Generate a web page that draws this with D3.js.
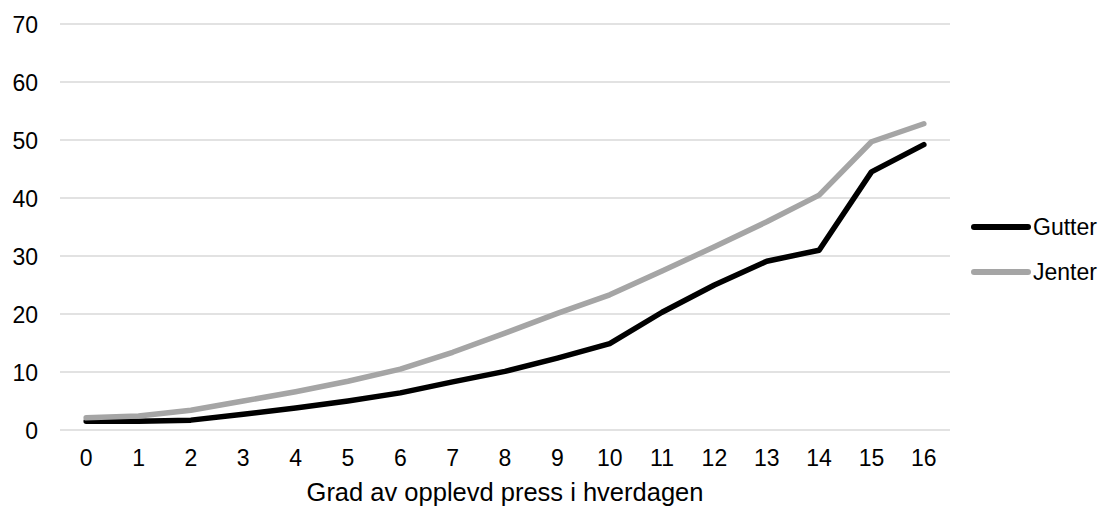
<!DOCTYPE html>
<html>
<head>
<meta charset="utf-8">
<script src="https://cdn.jsdelivr.net/npm/d3@7"></script>
<style>
  body { margin: 0; background: #fff; }
  text { font-family: "Liberation Sans", Arial, sans-serif; fill: #000; }
</style>
</head>
<body>
<svg id="chart"></svg>
<script>
// data
const categories = ["0","1","2","3","4","5","6","7","8","9","10","11","12","13","14","15","16"];
const gutter = [1.5, 1.5, 1.7, 2.7, 3.8, 5.0, 6.4, 8.3, 10.1, 12.4, 14.9, 20.3, 25.0, 29.1, 31.0, 44.5, 49.2];
const jenter = [2.1, 2.4, 3.4, 5.0, 6.6, 8.4, 10.5, 13.4, 16.7, 20.1, 23.3, 27.4, 31.6, 35.9, 40.5, 49.7, 52.8];
const seriesNames = ["Gutter", "Jenter"];
const seriesColors = ["#000000", "#a5a5a5"];
const yTicks = [0, 10, 20, 30, 40, 50, 60, 70];
const xTitle = "Grad av opplevd press i hverdagen";

// layout
const W = 1101, H = 509;
const margin = {top: 24, right: 151, bottom: 79, left: 60};
const width = W - margin.left - margin.right;
const height = H - margin.top - margin.bottom;

const svg = d3.select('#chart')
    .attr('width', W)
    .attr('height', H)
    .append('g')
    .attr('transform', 'translate(' + margin.left + ',' + margin.top + ')');

const x = d3.scaleBand()
    .domain(categories)
    .range([0, width]);

const y = d3.scaleLinear()
    .domain([0, 70])
    .range([height, 0]);

// gridlines
svg.append('g')
    .selectAll('line')
    .data(yTicks)
    .enter()
    .append('line')
    .attr('x1', 0)
    .attr('x2', width)
    .attr('y1', d => y(d))
    .attr('y2', d => y(d))
    .attr('stroke', '#d9d9d9')
    .attr('stroke-width', 1.3);

// y axis labels
const yAxis = svg.append('g')
    .call(d3.axisLeft(y).tickValues(yTicks).tickSize(0).tickPadding(22));
yAxis.select('.domain').remove();
yAxis.selectAll('text')
    .attr('dy', '0.36em')
    .style('font-size', '23px')
    .style('font-family', '"Liberation Sans", Arial, sans-serif');

// x axis labels
const xAxis = svg.append('g')
    .attr('transform', 'translate(0,' + height + ')')
    .call(d3.axisBottom(x).tickSize(0).tickPadding(0));
xAxis.select('.domain').remove();
xAxis.selectAll('text')
    .attr('dy', null)
    .attr('y', 36)
    .style('font-size', '23px')
    .style('font-family', '"Liberation Sans", Arial, sans-serif');

svg.append('text')
    .attr('x', width / 2)
    .attr('y', height + 71)
    .attr('text-anchor', 'middle')
    .style('font-size', '25.5px')
    .text(xTitle);

// lines
const line = d3.line()
    .x((d, i) => x(categories[i]) + x.bandwidth() / 2)
    .y(d => y(d));

[gutter, jenter].forEach(function(values, i) {
    svg.append('path')
        .datum(values)
        .attr('fill', 'none')
        .attr('stroke', seriesColors[i])
        .attr('stroke-width', 5.5)
        .attr('stroke-linejoin', 'round')
        .attr('stroke-linecap', 'round')
        .attr('d', line);
});

// legend
const legend = svg.append('g')
    .attr('transform', 'translate(' + (width + 24) + ',' + 203 + ')');
seriesNames.forEach(function(name, i) {
    const g = legend.append('g').attr('transform', 'translate(0,' + (i * 45) + ')');
    g.append('line')
        .attr('x1', 0).attr('x2', 54)
        .attr('y1', 0).attr('y2', 0)
        .attr('stroke', seriesColors[i])
        .attr('stroke-width', 6)
        .attr('stroke-linecap', 'round');
    g.append('text')
        .attr('x', 59)
        .attr('y', 8)
        .style('font-size', '23px')
        .text(name);
});
</script>
</body>
</html>
